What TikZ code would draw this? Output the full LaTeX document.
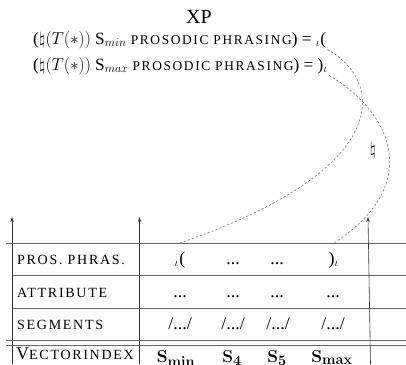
\documentclass[tikz,border=0pt]{standalone}
\usepackage[no-math]{fontspec}
\setmainfont{Liberation Serif}
\usetikzlibrary{arrows.meta}
\makeatletter
% small capitals: capitals set smaller and spaced out
\newcommand\fsc[1]{{\dimen@=\f@size pt\dimen@=0.78\dimen@
  \edef\scsize{\strip@pt\dimen@}%
  \fontsize{\scsize}{\scsize}\selectfont
  \addfontfeature{LetterSpace=12}#1}}
\makeatother
\begin{document}
\begin{tikzpicture}[x=1pt,y=-1pt]
\tikzset{
  rule/.style={draw=black!60, line width=0.9pt},
  axis/.style={draw=black!80, line width=0.6pt, -{Stealth[length=5pt,width=3.5pt]}},
  link/.style={draw=black!55, line width=0.6pt, dash pattern=on 2.2pt off 2pt},
  tfont/.style={font=\fontsize{18}{18}\selectfont},
  cell/.style={tfont, inner sep=0pt, anchor=base},
  idx/.style={font=\fontsize{19}{19}\selectfont, inner sep=0pt, anchor=base},
  head/.style={tfont, inner sep=0pt, anchor=base west},
  eqline/.style={font=\fontsize{17.2}{17.2}\selectfont, inner sep=1pt, anchor=base west}
}
\useasboundingbox (0,0) rectangle (406,364);

% heading and the two phrasing equations
\node[font=\fontsize{20}{20}\selectfont, inner sep=0pt, anchor=base] (xp) at (199,23) {XP};
\node[eqline] (l1) at (32,44) {($\natural(T(*))$ S$_{min}$ \fsc{PROSODIC PHRASING}) = $_\iota$(};
\node[eqline] (l2) at (32,70) {($\natural(T(*))$ S$_{max}$ \fsc{PROSODIC PHRASING}) = )$_\iota$};

% table rules
\coordinate (tl) at (6,243);
\draw[rule] (tl) -- (406,243);
\draw[rule] (12,275.5) -- (406,275.5);
\draw[rule] (12,308) -- (406,308);
\draw[rule] (6,340.5) -- (406,340.5);
\draw[rule] (6,345) -- (406,345);

% column axes
\draw[axis] (12,364) -- (12,217);
\draw[axis] (139.5,364) -- (139.5,217);
\draw[axis] (370.5,364) -- (368,217);

% row labels
\node[head] (h1) at (17,264) {\fsc{PROS. PHRAS.}};
\node[head] (h2) at (17,297) {\fsc{ATTRIBUTE}};
\node[head] (h3) at (17,329) {\fsc{SEGMENTS}};
\node[head] (h4) at (16,359) {V\fsc{ECTORINDEX}};

% prosodic phrasing row
\node[cell] (p1) at (180,264) {$_\iota$(};
\node[cell] (p2) at (233,264) {...};
\node[cell] (p3) at (277,264) {...};
\node[cell] (p4) at (334,264) {)$_\iota$};
% attribute row
\node[cell] (a1) at (180,297) {...};
\node[cell] (a2) at (233,297) {...};
\node[cell] (a3) at (277,297) {...};
\node[cell] (a4) at (333,297) {...};
% segments row
\node[cell] (s1) at (180,329) {/.../};
\node[cell] (s2) at (233,329) {/.../};
\node[cell] (s3) at (278,329) {/.../};
\node[cell] (s4) at (333,329) {/.../};
% vector index row
\node[idx] (v1) at (176,362) {$\mathbf{S_{min}}$};
\node[idx] (v2) at (232,362) {$\mathbf{S_4}$};
\node[idx] (v3) at (277,362) {$\mathbf{S_5}$};
\node[idx] (v4) at (332,362) {$\mathbf{S_{max}}$};

% boundary links from the equations to the table
\draw[link] (l1.south east) .. controls +(55,30) and +(218,-75) .. (p1.north |- tl);
\draw[link] (l2.south east) .. controls +(60,35) and +(92,-60) .. (p4.north |- tl);
\node[tfont, inner sep=0pt] (nat) at (373,150) {$\natural$};
\end{tikzpicture}
\end{document}
